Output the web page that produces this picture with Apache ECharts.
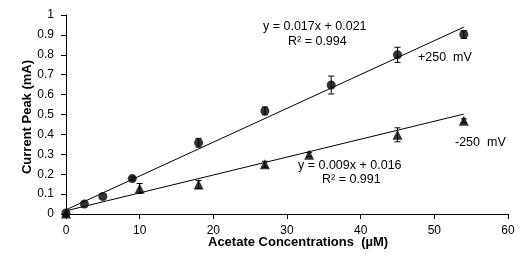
<!DOCTYPE html>
<html>
<head>
<meta charset="utf-8">
<script src="https://cdn.jsdelivr.net/npm/echarts@6/dist/echarts.min.js"></script>
<style>
  html, body { margin: 0; padding: 0; background: #fff; }
  #main { width: 531px; height: 273px; }
</style>
</head>
<body>
<div id="main"></div>
<script>
// +250 mV (circles)
const posX = [0, 2.5, 5, 9, 18, 27, 36, 45, 54]
const posY = [0.005, 0.05, 0.088, 0.178, 0.358, 0.518, 0.648, 0.8, 0.902]
const posErr = [0, 0, 0, 0.008, 0.022, 0.02, 0.045, 0.038, 0.02]
// -250 mV (triangles)
const negX = [0, 10, 18, 27, 33, 45, 54]
const negY = [0.003, 0.128, 0.148, 0.25, 0.298, 0.398, 0.468]
const negErr = [0, 0.025, 0.02, 0.015, 0.01, 0.035, 0.01]
// trendline ends
const posTrend = [[0, 0.021], [54, 0.939]]
const negTrend = [[0, 0.016], [54, 0.502]]

const font = 'Liberation Sans, Arial, sans-serif'

function pairs(xs, ys) {
  return xs.map((x, i) => [x, ys[i]])
}
function errData(xs, ys, es) {
  return xs.map((x, i) => [x, ys[i] - es[i], ys[i] + es[i]]).filter((d, i) => es[i] > 0)
}
// 误差线
function errRender(params, api) {
  const lo = api.coord([api.value(0), api.value(1)])
  const hi = api.coord([api.value(0), api.value(2)])
  const w = 3
  const style = { stroke: '#000', lineWidth: 1 }
  return {
    type: 'group',
    children: [
      { type: 'line', shape: { x1: lo[0], y1: lo[1], x2: hi[0], y2: hi[1] }, style },
      { type: 'line', shape: { x1: lo[0] - w, y1: lo[1], x2: lo[0] + w, y2: lo[1] }, style },
      { type: 'line', shape: { x1: hi[0] - w, y1: hi[1], x2: hi[0] + w, y2: hi[1] }, style }
    ]
  }
}

const chart = echarts.init(document.getElementById('main'))
const axisCommon = {
  axisLine: { lineStyle: { color: '#000', width: 1 } },
  axisTick: { lineStyle: { color: '#000' }, length: 5 },
  splitLine: { show: false }
}
const txt = '12.5px ' + font
const option = {
  animation: false,
  grid: { left: 66, right: 23, top: 15, bottom: 59, containLabel: false },
  xAxis: Object.assign({
    type: 'value', min: 0, max: 60, interval: 10,
    axisLabel: { color: '#000', fontFamily: font, fontSize: 12, margin: 11 }
  }, axisCommon),
  yAxis: Object.assign({
    type: 'value', min: 0, max: 1, interval: 0.1,
    axisLabel: { color: '#000', fontFamily: font, fontSize: 12, margin: 12 }
  }, axisCommon),
  series: [
    { type: 'line', data: posTrend, symbol: 'none', lineStyle: { color: '#000', width: 1 }, z: 1 },
    { type: 'line', data: negTrend, symbol: 'none', lineStyle: { color: '#000', width: 1 }, z: 1 },
    { type: 'custom', data: errData(posX, posY, posErr), renderItem: errRender, z: 2 },
    { type: 'custom', data: errData(negX, negY, negErr), renderItem: errRender, z: 2 },
    { type: 'scatter', data: pairs(posX, posY), symbol: 'circle', symbolSize: 9, itemStyle: { color: '#000' }, z: 3 },
    { type: 'scatter', data: pairs(negX, negY), symbol: 'triangle', symbolSize: 10, itemStyle: { color: '#000' }, z: 3 }
  ],
  graphic: [
    { type: 'text', left: 263, top: 20, style: { text: 'y = 0.017x + 0.021', font: txt, fill: '#000' } },
    { type: 'text', left: 288, top: 35, style: { text: 'R² = 0.994', font: txt, fill: '#000' } },
    { type: 'text', left: 418, top: 51, style: { text: '+250  mV', font: txt, fill: '#000' } },
    { type: 'text', left: 455, top: 136, style: { text: '-250  mV', font: txt, fill: '#000' } },
    { type: 'text', left: 298, top: 159, style: { text: 'y = 0.009x + 0.016', font: txt, fill: '#000' } },
    { type: 'text', left: 322, top: 173, style: { text: 'R² = 0.991', font: txt, fill: '#000' } },
    { type: 'text', left: 208, top: 236, style: { text: 'Acetate Concentrations  (µM)', font: 'bold 13px ' + font, fill: '#000' } },
    {
      type: 'text', x: 27, y: 117, rotation: Math.PI / 2,
      style: { text: 'Current Peak (mA)', font: 'bold 13px ' + font, fill: '#000', align: 'center', verticalAlign: 'middle' }
    }
  ]
}
chart.setOption(option)
</script>
</body>
</html>
